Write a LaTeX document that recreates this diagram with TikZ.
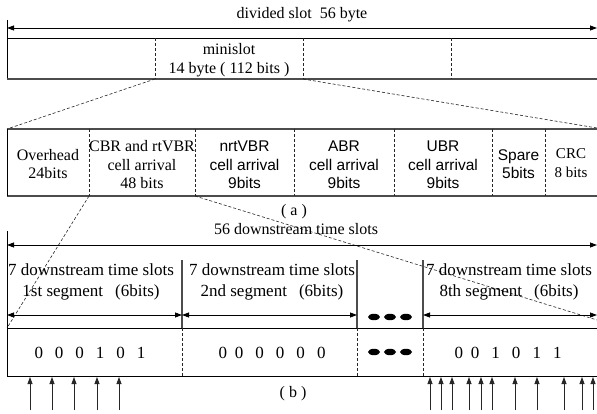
\documentclass[tikz,border=0pt]{standalone}
\usepackage{fontspec}
\setmainfont{Liberation Serif}
\newfontfamily\arialfont{Liberation Sans}
\usetikzlibrary{arrows.meta}
\begin{document}
\begin{tikzpicture}[x=1pt,y=-1pt,
  txt/.style={font=\fontsize{16}{18.5}\selectfont, inner sep=0pt, align=center},
  bigtxt/.style={font=\fontsize{17}{21}\selectfont, inner sep=0pt, align=center},
  sans/.style={font=\arialfont\fontsize{15.5}{18.5}\selectfont, inner sep=0pt, align=center},
  frame/.style={line width=1.1pt, draw=black!70},
  thinline/.style={line width=0.7pt, draw=black},
  dashsep/.style={dash pattern=on 3pt off 2pt, line width=0.6pt, draw=black!85},
  dimarrow/.style={line width=0.8pt, draw=black, {Triangle[length=7pt,width=5pt]}-{Triangle[length=7pt,width=5pt]}},
  uparrow/.style={line width=0.8pt, draw=black!85, -{Triangle[length=7pt,width=5pt]}},
  segsep/.style={line width=1.1pt, draw=black!70},
  dot/.style={fill=black}
]
\useasboundingbox (0,0) rectangle (597,414);

% ---------- top: divided slot ----------
\coordinate (tl0) at (7,20);
\coordinate (tl1) at (7,79);
\coordinate (ta0) at (7,28);
\coordinate (ta1) at (597,28);
\coordinate (tt0) at (7,38);
\coordinate (tt1) at (597,38);
\coordinate (tb0) at (7,79);
\coordinate (tb1) at (597,79);
\draw[thinline] (tl0) -- (tl1);
\draw[dimarrow] (ta0) -- (ta1);
\draw[thinline] (tt0) -- (tt1);
\draw[frame] (tb0) -- (tb1);
\node[txt] (divlab) at (302,15) {divided slot\ \ 56 byte};
\foreach \x/\n in {155/a,303/b,451/c}{
  \coordinate (td\n0) at (\x,38);
  \coordinate (td\n1) at (\x,79);
  \draw[dashsep] (td\n0) -- (td\n1);
}
\node[txt] (mini) at (229,60) {minislot\\14 byte ( 112 bits )};

% ---------- zoom lines to (a) ----------
\coordinate (za0) at (7,129);
\coordinate (za1) at (597,128);
\draw[dashsep] (tda1) -- (za0);
\draw[dashsep] (tdb1) -- (za1);

% ---------- (a) minislot fields ----------
\coordinate (at0) at (7,129);
\coordinate (at1) at (597,129);
\coordinate (ab0) at (7,196);
\coordinate (ab1) at (597,196);
\draw[frame] (at0) -- (at1);
\draw[frame] (ab0) -- (ab1);
\draw[thinline] (at0) -- (ab0);
\foreach \x/\n in {89/a,195/b,294/c,394/d,492/e,545/f}{
  \coordinate (fd\n0) at (\x,129);
  \coordinate (fd\n1) at (\x,196);
  \draw[dashsep] (fd\n0) -- (fd\n1);
}
\node[txt] (ovh) at (48,164) {Overhead\\24bits};
\node[txt] (cbr) at (142,165) {CBR and rtVBR\\cell arrival\\48 bits};
\node[sans] (nrt) at (244.5,165) {nrtVBR\\cell arrival\\9bits};
\node[sans] (abr) at (344,165) {ABR\\cell arrival\\9bits};
\node[sans] (ubr) at (443,165) {UBR\\cell arrival\\9bits};
\node[sans] (spare) at (518.5,164) {Spare\\5bits};
\node[txt,font=\fontsize{15}{18.5}\selectfont] (crc) at (571,163) {CRC\\8 bits};
\node[txt] (alab) at (294,212) {( a )};

% ---------- zoom lines to (b) ----------
\coordinate (zb0) at (7,328);
\coordinate (zb1) at (597,320);
\draw[dashsep] (fda1) -- (zb0);
\draw[dashsep] (fdb1) -- (zb1);

% ---------- (b) downstream ----------
\node[txt] (dslab) at (296,229) {56 downstream time slots};
\coordinate (bl0) at (7,231);
\coordinate (bl1) at (7,377);
\draw[thinline] (bl0) -- (bl1);
\coordinate (ba0) at (7,245);
\coordinate (ba1) at (597,245);
\draw[dimarrow] (ba0) -- (ba1);
\coordinate (bt0) at (7,328);
\coordinate (bt1) at (597,328);
\coordinate (bb0) at (7,376);
\coordinate (bb1) at (597,376);
\draw[thinline] (bt0) -- (bt1);
\draw[thinline] (bb0) -- (bb1);
\foreach \x/\n in {182/a,357/b,423/c}{
  \coordinate (ss\n0) at (\x,260);
  \coordinate (ss\n1) at (\x,328);
  \coordinate (ss\n2) at (\x,376);
  \draw[segsep] (ss\n0) -- (ss\n1);
  \draw[dashsep] (ss\n1) -- (ss\n2);
}
% segment arrows
\coordinate (sa0) at (7,315);
\coordinate (sa1) at (182,315);
\coordinate (sa2) at (357,315);
\coordinate (sa3) at (423,315);
\coordinate (sa4) at (597,315);
\draw[dimarrow] (sa0) -- (sa1);
\draw[dimarrow] (sa1) -- (sa2);
\draw[dimarrow] (sa3) -- (sa4);
% segment labels
\node[bigtxt] (s1) at (91,282) {7 downstream time slots\\1st segment\hspace{12pt}(6bits)};
\node[bigtxt] (s2) at (272,282) {7 downstream time slots\\2nd segment\hspace{12pt}(6bits)};
\node[bigtxt] (s8) at (509,282) {7 downstream time slots\\8th segment\hspace{12pt}(6bits)};
% bits
\node[bigtxt] (b1) at (90,353) {0\hspace{12pt}0\hspace{12pt}0\hspace{12pt}1\hspace{12pt}0\hspace{12pt}1};
\node[bigtxt] (b2) at (272,353) {0\hspace{8pt}0\hspace{12pt}0\hspace{12pt}0\hspace{12pt}0\hspace{12pt}0};
\node[bigtxt] (b8) at (508,353) {0\hspace{8pt}0\hspace{12pt}1\hspace{12pt}0\hspace{12pt}1\hspace{12pt}1};
% dots
\foreach \x in {374,390,406}{
  \fill[dot] (\x,317) ellipse [x radius=6, y radius=3.2];
  \fill[dot] (\x,352) ellipse [x radius=6, y radius=3.2];
}
% arrows below
\foreach \x [count=\i] in {30,52,74,97,119,430,441,452,469,481,492,515,537,564,582,593}{
  \coordinate (ua\i) at (\x,410);
  \coordinate (ub\i) at (\x,377);
  \draw[uparrow] (ua\i) -- (ub\i);
}
\node[txt] (blab) at (293,394) {( b )};
\end{tikzpicture}
\end{document}
